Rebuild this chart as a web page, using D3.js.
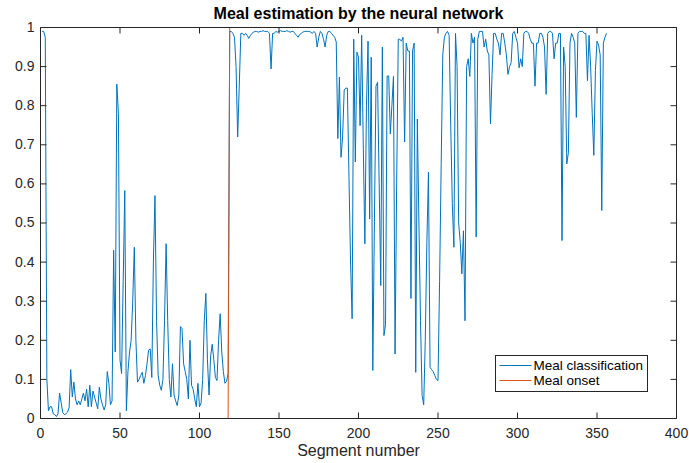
<!DOCTYPE html>
<html>
<head>
<meta charset="utf-8">
<script src="https://cdn.jsdelivr.net/npm/d3@7"></script>
<style>
	body { margin: 0; background: #fff; }
	svg { display: block; font-family: "Liberation Sans", Arial, sans-serif; }
</style>
</head>
<body>
<svg id="chart" width="689" height="463"></svg>
<script>
// values, one per segment (1..356)
const mealClassification = [
	0.99, 0.99, 0.975, 0.10, 0.02, 0.03, 0.03, 0.012, 0.01, 0.005,
	0.012, 0.065, 0.04, 0.015, 0.01, 0.012, 0.016, 0.028, 0.125, 0.055,
	0.093, 0.05, 0.035, 0.045, 0.035, 0.05, 0.065, 0.045, 0.075, 0.03,
	0.085, 0.03, 0.07, 0.055, 0.04, 0.025, 0.08, 0.05, 0.035, 0.022,
	0.035, 0.12, 0.09, 0.035, 0.045, 0.43, 0.17, 0.855, 0.78, 0.15,
	0.115, 0.35, 0.583, 0.02, 0.12, 0.17, 0.2, 0.3, 0.438, 0.2,
	0.093, 0.1, 0.11, 0.118, 0.09, 0.11, 0.14, 0.175, 0.178, 0.105,
	0.4, 0.57, 0.25, 0.11, 0.085, 0.072, 0.1, 0.25, 0.447, 0.25,
	0.1, 0.055, 0.14, 0.06, 0.045, 0.033, 0.06, 0.235, 0.23, 0.14,
	0.12, 0.1, 0.05, 0.2, 0.085, 0.075, 0.05, 0.03, 0.09, 0.03,
	0.04, 0.1, 0.25, 0.32, 0.15, 0.06, 0.16, 0.19, 0.15, 0.105,
	0.097, 0.2, 0.268, 0.17, 0.12, 0.09, 0.095, 0.115, 0.99, 0.99,
	0.985, 0.975, 0.9, 0.72, 0.85, 0.985, 0.985, 0.98, 0.985, 0.98,
	0.972, 0.98, 0.985, 0.988, 0.99, 0.99, 0.988, 0.99, 0.99, 0.992,
	0.99, 0.99, 0.99, 0.985, 0.894, 0.985, 0.985, 0.99, 0.988, 0.99,
	0.992, 0.99, 0.99, 0.99, 0.992, 0.99, 0.988, 0.99, 0.99, 0.985,
	0.98, 0.975, 0.982, 0.985, 0.988, 0.99, 0.99, 0.99, 0.99, 0.988,
	0.985, 0.99, 0.985, 0.95, 0.975, 0.99, 0.985, 0.97, 0.95, 0.98,
	0.99, 0.99, 0.985, 0.98, 0.975, 0.963, 0.716, 0.873, 0.668, 0.72,
	0.84, 0.845, 0.845, 0.62, 0.4, 0.255, 0.97, 0.656, 0.937, 0.924,
	0.749, 0.98, 0.7, 0.447, 0.8, 0.965, 0.51, 0.924, 0.123, 0.5,
	0.85, 0.86, 0.6, 0.34, 0.95, 0.212, 0.24, 0.876, 0.876, 0.728,
	0.8, 0.875, 0.165, 0.6, 0.97, 0.97, 0.965, 0.975, 0.707, 0.96,
	0.94, 0.94, 0.307, 0.94, 0.96, 0.118, 0.766, 0.5, 0.25, 0.059,
	0.035, 0.2, 0.45, 0.63, 0.131, 0.125, 0.12, 0.11, 0.1, 0.097,
	0.35, 0.65, 0.93, 0.975, 0.985, 0.99, 0.98, 0.75, 0.55, 0.438,
	0.985, 0.9, 0.5, 0.45, 0.37, 0.48, 0.25, 0.9, 0.92, 0.875,
	0.985, 0.96, 0.975, 0.464, 0.97, 0.99, 0.99, 0.99, 0.95, 0.97,
	0.94, 0.93, 0.754, 0.88, 0.985, 0.985, 0.97, 0.96, 0.93, 0.985,
	0.985, 0.96, 0.93, 0.88, 0.9, 0.91, 0.985, 0.99, 0.975, 0.96,
	0.897, 0.92, 0.9, 0.985, 0.99, 0.99, 0.985, 0.97, 0.96, 0.96,
	0.85, 0.96, 0.96, 0.985, 0.985, 0.975, 0.95, 0.829, 0.985, 0.99,
	0.99, 0.985, 0.92, 0.96, 0.96, 0.985, 0.985, 0.455, 0.95, 0.9,
	0.651, 0.68, 0.96, 0.985, 0.975, 0.96, 0.77, 0.985, 0.99, 0.99,
	0.99, 0.985, 0.985, 0.864, 0.98, 0.9, 0.78, 0.673, 0.89, 0.965,
	0.955, 0.93, 0.532, 0.96, 0.975, 0.985
]
// meal onset step: corner points of the orange line
const onsetX = [1, 118, 119, 356]
const onsetY = [0, 0, 1, 1]

const xTicks = [0, 50, 100, 150, 200, 250, 300, 350, 400]
const yTicks = [0, 0.1, 0.2, 0.3, 0.4, 0.5, 0.6, 0.7, 0.8, 0.9, 1]
const legendLabels = ["Meal classification", "Meal onset"]
const colors = ["#0072bd", "#d95319"]

const axisColor = "#262626"
// half pixels so the box lines sit crisp right on top of y=0 and y=1
const plotLeft = 40.5, plotRight = 676.5, plotTop = 27.5, plotBottom = 418.5

const svg = d3.select("#chart")
const x = d3.scaleLinear().domain([0, 400]).range([plotLeft, plotRight])
const y = d3.scaleLinear().domain([0, 1]).range([plotBottom, plotTop])

const line = d3.line()
	.x(d => x(d[0]))
	.y(d => y(d[1]))

const classPoints = mealClassification.map((v, i) => [i + 1, v])
const onsetPoints = onsetX.map((v, i) => [v, onsetY[i]])

svg.append("path")
	.datum(classPoints)
	.attr("d", line)
	.attr("fill", "none")
	.attr("stroke", colors[0])
	.attr("stroke-width", 1)

svg.append("path")
	.datum(onsetPoints)
	.attr("d", line)
	.attr("fill", "none")
	.attr("stroke", colors[1])
	.attr("stroke-width", 1)

// axes box drawn over the data, ticks pointing inward on all four sides
const styleAxis = g => {
	g.selectAll("path, line").attr("stroke", axisColor)
	g.selectAll("text").attr("fill", axisColor)
	g.attr("font-family", null)
}

svg.append("g")
	.attr("transform", `translate(0,${plotBottom})`)
	.call(d3.axisBottom(x).tickValues(xTicks).tickSizeInner(-6).tickSizeOuter(0).tickPadding(10).offset(0))
	.attr("font-size", 14)
	.call(styleAxis)

svg.append("g")
	.attr("transform", `translate(0,${plotTop})`)
	.call(d3.axisTop(x).tickValues(xTicks).tickSizeInner(-6).tickSizeOuter(0).tickFormat("").offset(0))
	.call(styleAxis)

svg.append("g")
	.attr("transform", `translate(${plotLeft},0)`)
	.call(d3.axisLeft(y).tickValues(yTicks).tickSizeInner(-6).tickSizeOuter(0).tickPadding(6).tickFormat(d3.format("")).offset(0))
	.attr("font-size", 14)
	.call(styleAxis)

svg.append("g")
	.attr("transform", `translate(${plotRight},0)`)
	.call(d3.axisRight(y).tickValues(yTicks).tickSizeInner(-6).tickSizeOuter(0).tickFormat("").offset(0))
	.call(styleAxis)

svg.append("text")
	.attr("x", (plotLeft + plotRight) / 2)
	.attr("y", 19)
	.attr("text-anchor", "middle")
	.attr("font-size", 16)
	.attr("font-weight", "bold")
	.attr("fill", "#000")
	.text("Meal estimation by the neural network")

svg.append("text")
	.attr("x", (plotLeft + plotRight) / 2)
	.attr("y", 456)
	.attr("text-anchor", "middle")
	.attr("font-size", 16)
	.attr("fill", axisColor)
	.text("Segment number")

// legend
const legend = svg.append("g").attr("transform", "translate(495.5,355.5)")
legend.append("rect")
	.attr("width", 152)
	.attr("height", 36)
	.attr("fill", "#fff")
	.attr("stroke", axisColor)
	.attr("stroke-width", 1)
const item = legend.selectAll(".item")
	.data(legendLabels)
	.enter()
	.append("g")
	.attr("class", "item")
	.attr("transform", (d, i) => `translate(0,${10 + i * 15})`)
item.append("line")
	.attr("x1", 4)
	.attr("x2", 36)
	.attr("stroke", (d, i) => colors[i])
	.attr("stroke-width", 1)
item.append("text")
	.attr("x", 38)
	.attr("dy", "0.35em")
	.attr("font-size", 13.5)
	.attr("fill", "#000")
	.text(d => d)
</script>
</body>
</html>
